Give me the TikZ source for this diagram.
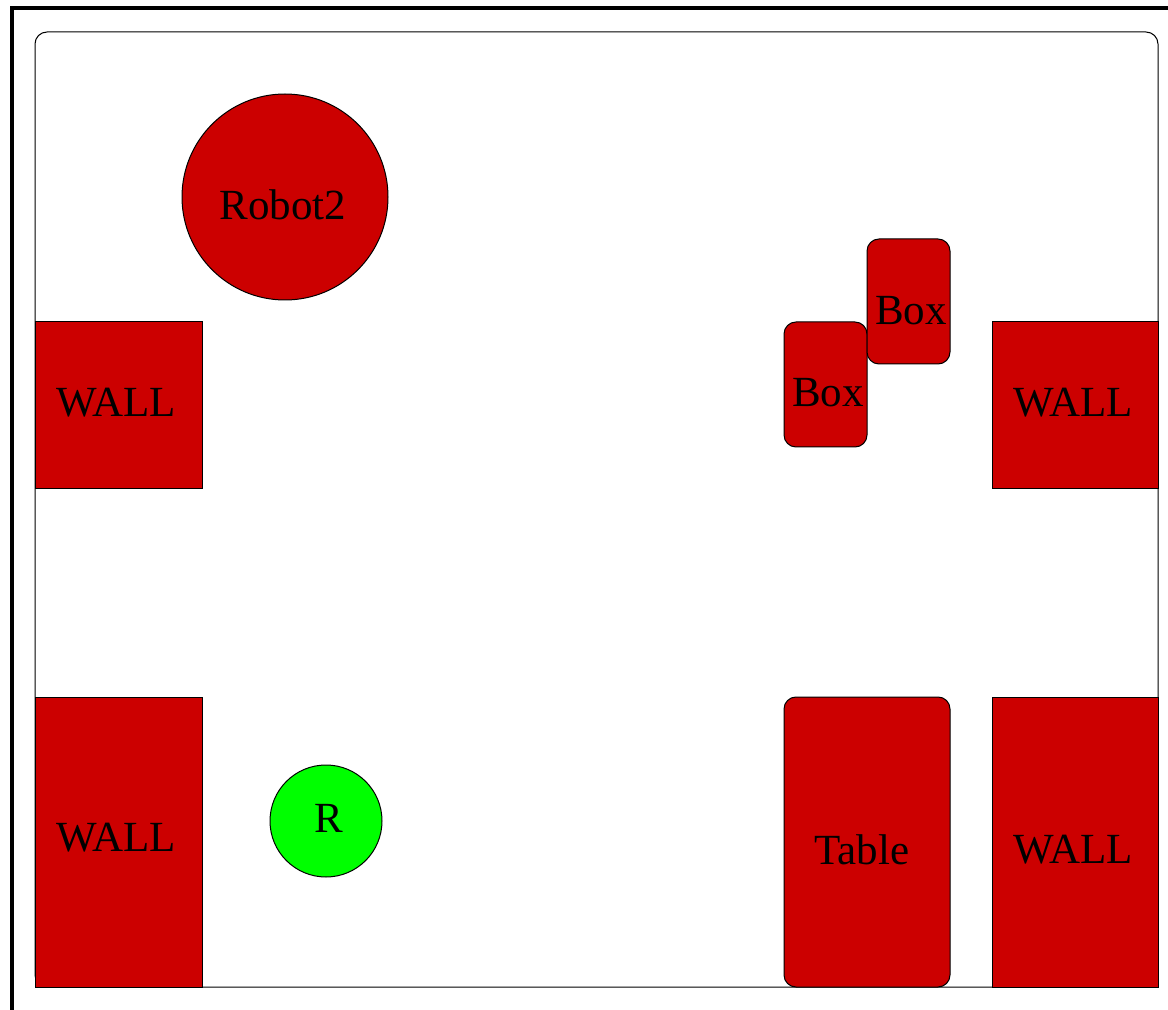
\documentclass[tikz,border=0pt]{standalone}
\usepackage{fontspec}
\setmainfont{Liberation Serif}
\usetikzlibrary{positioning}
\definecolor{obstred}   {RGB}{204, 0,   0}
\definecolor{robotgreen}{RGB}{0,   255, 0}
\tikzset{
  room/.style={
    draw=black, line width=0.5pt, rounded corners=6pt
  },
  wallblock/.style={
    draw=black, line width=0.5pt, fill=obstred
  },
  objblock/.style={
    draw=black, line width=0.5pt, fill=obstred, rounded corners=6pt
  },
  robotbody/.style={
    draw=black, line width=0.5pt, fill=obstred
  },
  selfbody/.style={
    draw=black, line width=0.5pt, fill=robotgreen
  },
  maplabel/.style={
    font=\fontsize{21.5}{25}\selectfont, inner sep=0pt
  },
}

\begin{document}
\begin{tikzpicture}[x=0.5pt, y=-0.5pt]
  \useasboundingbox (0,0) rectangle (1168,1010);

  % Frame
  \draw[line width=2pt] (12,1100) -- (12,8) -- (1250,8);

  % Room
  \draw[room] (35,32) rectangle (1158,987);

  % Walls
  \draw[wallblock] (35,322) rectangle (202,489);
  \draw[wallblock] (35,697) rectangle (202,987);
  \draw[wallblock] (992,322) rectangle (1158,489);
  \draw[wallblock] (992,697) rectangle (1158,987);
  \node[maplabel] (wallNW) at (116,403) {WALL};
  \node[maplabel] (wallSW) at (116,838) {WALL};
  \node[maplabel] (wallNE) at (1073,403) {WALL};
  \node[maplabel] (wallSE) at (1073,850) {WALL};

  % Boxes and table
  \draw[objblock] (784,322) rectangle (867,447);
  \draw[objblock] (867,239) rectangle (950,364);
  \draw[objblock] (784,697) rectangle (950,987);
  \node[maplabel] (box1) at (828,393) {Box};
  \node[maplabel] (box2) at (911,311) {Box};
  \node[maplabel] (table) at (862,850) {Table};

  % Robots
  \draw[robotbody] (285,197) circle (103);
  \node[maplabel] (robot2) at (283,205) {Robot2};
  \draw[selfbody] (326,821) circle (56);
  \node[maplabel] (self) at (329,818) {R};
\end{tikzpicture}
\end{document}
